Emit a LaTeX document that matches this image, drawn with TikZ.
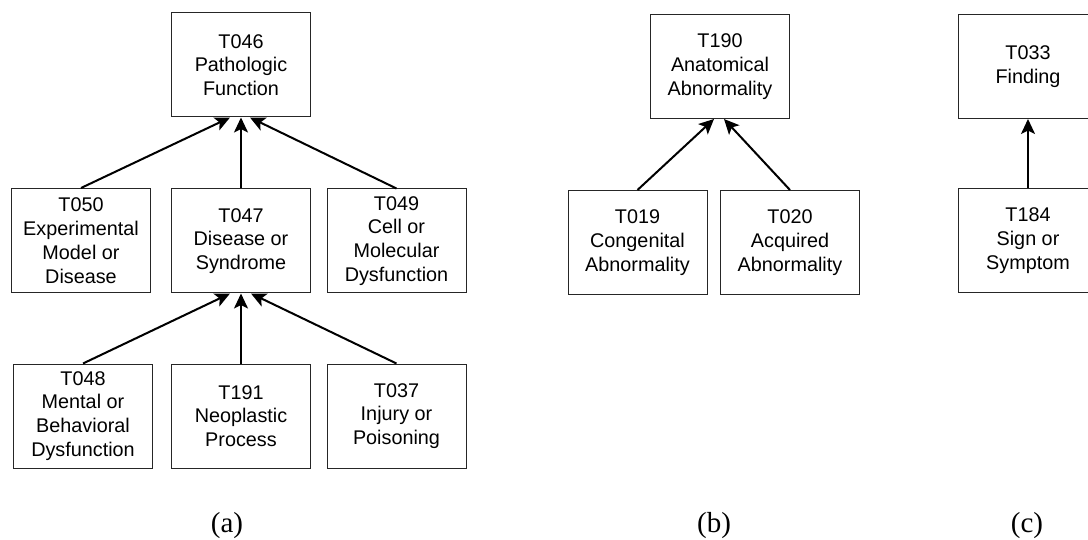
\documentclass[tikz,border=0pt]{standalone}
\usepackage{fontspec}
\setmainfont{Liberation Sans}
\newfontfamily\capfont{Liberation Serif}
\usetikzlibrary{arrows.meta,calc}
\begin{document}
\begin{tikzpicture}[x=1pt,y=-1pt,
  box/.style={draw=black!85,line width=1pt,minimum width=139pt,minimum height=104pt,
    inner sep=0pt,align=center,font=\fontsize{19.8}{23.8}\selectfont},
  isa/.style={line width=2pt,-{Stealth[length=15pt,width=14pt,inset=3.5pt]}},
  subcap/.style={font=\capfont\fontsize{29}{32}\selectfont,anchor=base}]
\useasboundingbox (0,0) rectangle (1088,540);
% (a)
\node[box] (t046) at (241,65) {T046\\Pathologic\\Function};
\node[box] (t050) at (81,240.5) {T050\\Experimental\\Model or\\Disease};
\node[box] (t047) at (241,241) {T047\\Disease or\\Syndrome};
\node[box] (t049) at (396.5,241) {T049\\Cell or\\Molecular\\Dysfunction};
\node[box] (t048) at (83,416) {T048\\Mental or\\Behavioral\\Dysfunction};
\node[box] (t191) at (241,416) {T191\\Neoplastic\\Process};
\node[box] (t037) at (396.5,416) {T037\\Injury or\\Poisoning};
\draw[isa] (t050.north) -- ($(t046.south)+(-11,0)$);
\draw[isa] (t047.north) -- (t046.south);
\draw[isa] (t049.north) -- ($(t046.south)+(9,0)$);
\draw[isa] (t048.north) -- ($(t047.south)+(-11,0)$);
\draw[isa] (t191.north) -- (t047.south);
\draw[isa] (t037.north) -- ($(t047.south)+(10,0)$);
% (b)
\node[box] (t190) at (720,66.5) {T190\\Anatomical\\Abnormality};
\node[box] (t019) at (637.5,242.5) {T019\\Congenital\\Abnormality};
\node[box] (t020) at (790,242.5) {T020\\Acquired\\Abnormality};
\draw[isa] (t019.north) -- ($(t190.south)+(-6,0)$);
\draw[isa] (t020.north) -- ($(t190.south)+(4,0)$);
% (c)
\node[box] (t033) at (1028,66.5) {T033\\Finding};
\node[box] (t184) at (1028,240.5) {T184\\Sign or\\Symptom};
\draw[isa] (t184.north) -- (t033.south);
% captions
\node[subcap] (capa) at (227,532) {(a)};
\node[subcap] (capb) at (714,532) {(b)};
\node[subcap] (capc) at (1027,532) {(c)};
\end{tikzpicture}
\end{document}
